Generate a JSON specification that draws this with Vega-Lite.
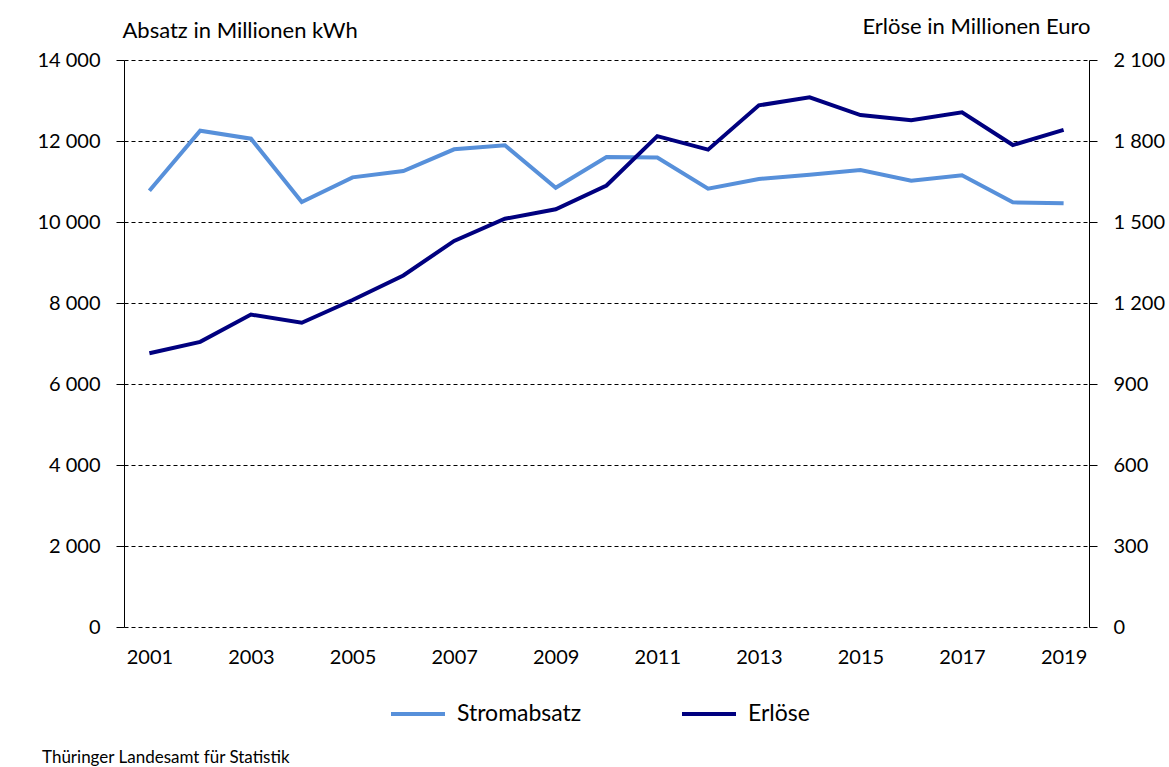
{
  "$schema": "https://vega.github.io/schema/vega-lite/v6.json",
  "width": 965,
  "height": 567,
  "autosize": {"type": "none"},
  "padding": {"left": 124, "top": 60, "right": 80, "bottom": 140},
  "background": "white",
  "config": {
    "font": "Lato",
    "view": {"stroke": null},
    "locale": {"number": {"decimal": ",", "thousands": " ", "grouping": [3], "currency": ["", " €"]}},
    "axis": {"labelFontSize": 20, "labelColor": "#000", "titleColor": "#000", "titleFontSize": 22, "titleFontWeight": "normal", "labelFont": "Lato", "titleFont": "Lato"},
    "title": {"font": "Lato"}
  },
  "title": {
    "text": "Thüringer Landesamt für Statistik",
    "orient": "bottom",
    "anchor": "start",
    "frame": "group",
    "fontSize": 17,
    "fontWeight": "normal",
    "color": "#000",
    "baseline": "alphabetic",
    "dx": -82,
    "offset": 37
  },
  "data": {
    "values": [
      {"Jahr": "2001", "Serie": "Stromabsatz", "Wert": 10770},
      {"Jahr": "2002", "Serie": "Stromabsatz", "Wert": 12255},
      {"Jahr": "2003", "Serie": "Stromabsatz", "Wert": 12057},
      {"Jahr": "2004", "Serie": "Stromabsatz", "Wert": 10494},
      {"Jahr": "2005", "Serie": "Stromabsatz", "Wert": 11103},
      {"Jahr": "2006", "Serie": "Stromabsatz", "Wert": 11259},
      {"Jahr": "2007", "Serie": "Stromabsatz", "Wert": 11795},
      {"Jahr": "2008", "Serie": "Stromabsatz", "Wert": 11893},
      {"Jahr": "2009", "Serie": "Stromabsatz", "Wert": 10847},
      {"Jahr": "2010", "Serie": "Stromabsatz", "Wert": 11605},
      {"Jahr": "2011", "Serie": "Stromabsatz", "Wert": 11590},
      {"Jahr": "2012", "Serie": "Stromabsatz", "Wert": 10822},
      {"Jahr": "2013", "Serie": "Stromabsatz", "Wert": 11062},
      {"Jahr": "2014", "Serie": "Stromabsatz", "Wert": 11168},
      {"Jahr": "2015", "Serie": "Stromabsatz", "Wert": 11284},
      {"Jahr": "2016", "Serie": "Stromabsatz", "Wert": 11020},
      {"Jahr": "2017", "Serie": "Stromabsatz", "Wert": 11153},
      {"Jahr": "2018", "Serie": "Stromabsatz", "Wert": 10486},
      {"Jahr": "2019", "Serie": "Stromabsatz", "Wert": 10461},
      {"Jahr": "2001", "Serie": "Erlöse", "Wert": 1014},
      {"Jahr": "2002", "Serie": "Erlöse", "Wert": 1056},
      {"Jahr": "2003", "Serie": "Erlöse", "Wert": 1157},
      {"Jahr": "2004", "Serie": "Erlöse", "Wert": 1127},
      {"Jahr": "2005", "Serie": "Erlöse", "Wert": 1211},
      {"Jahr": "2006", "Serie": "Erlöse", "Wert": 1302},
      {"Jahr": "2007", "Serie": "Erlöse", "Wert": 1430},
      {"Jahr": "2008", "Serie": "Erlöse", "Wert": 1512},
      {"Jahr": "2009", "Serie": "Erlöse", "Wert": 1547},
      {"Jahr": "2010", "Serie": "Erlöse", "Wert": 1635},
      {"Jahr": "2011", "Serie": "Erlöse", "Wert": 1818},
      {"Jahr": "2012", "Serie": "Erlöse", "Wert": 1768},
      {"Jahr": "2013", "Serie": "Erlöse", "Wert": 1932},
      {"Jahr": "2014", "Serie": "Erlöse", "Wert": 1962},
      {"Jahr": "2015", "Serie": "Erlöse", "Wert": 1896},
      {"Jahr": "2016", "Serie": "Erlöse", "Wert": 1877},
      {"Jahr": "2017", "Serie": "Erlöse", "Wert": 1906},
      {"Jahr": "2018", "Serie": "Erlöse", "Wert": 1785},
      {"Jahr": "2019", "Serie": "Erlöse", "Wert": 1841}
    ]
  },
  "encoding": {
    "x": {
      "field": "Jahr",
      "type": "ordinal",
      "scale": {"type": "point", "padding": 0.5},
      "axis": {
        "title": null,
        "labelAngle": 0,
        "values": ["2001", "2003", "2005", "2007", "2009", "2011", "2013", "2015", "2017", "2019"],
        "ticks": false,
        "domain": false,
        "grid": false,
        "labelPadding": 20
      }
    },
    "color": {
      "field": "Serie",
      "type": "nominal",
      "scale": {"domain": ["Stromabsatz", "Erlöse"], "range": ["#5790DA", "#00007F"]},
      "legend": {
        "title": null,
        "orient": "none",
        "direction": "horizontal",
        "legendX": 265,
        "legendY": 625,
        "symbolType": "stroke",
        "symbolSize": 2916,
        "symbolStrokeWidth": 4,
        "labelFontSize": 23,
        "labelColor": "#000",
        "labelOffset": 10,
        "columnPadding": 92
      }
    }
  },
  "layer": [
    {
      "transform": [{"filter": "datum.Serie === 'Stromabsatz'"}],
      "mark": {"type": "line", "strokeWidth": 4},
      "encoding": {
        "y": {
          "field": "Wert",
          "type": "quantitative",
          "scale": {"domain": [0, 14000], "nice": false},
          "axis": {
            "orient": "left",
            "title": "Absatz in Millionen kWh",
            "titleAngle": 0,
            "titleAlign": "left",
            "titleBaseline": "alphabetic",
            "titleX": -2,
            "titleY": -23,
            "values": [0, 2000, 4000, 6000, 8000, 10000, 12000, 14000],
            "format": ",d",
            "domain": true,
            "domainColor": "#000",
            "domainWidth": 1,
            "ticks": true,
            "tickSize": 8,
            "tickColor": "#000",
            "labelPadding": 16,
            "grid": true,
            "gridColor": "#000",
            "gridDash": [4, 3],
            "gridWidth": 1
          }
        }
      }
    },
    {
      "transform": [{"filter": "datum.Serie === 'Erlöse'"}],
      "mark": {"type": "line", "strokeWidth": 4},
      "encoding": {
        "y": {
          "field": "Wert",
          "type": "quantitative",
          "scale": {"domain": [0, 2100], "nice": false},
          "axis": {
            "orient": "right",
            "title": "Erlöse in Millionen Euro",
            "titleAngle": 0,
            "titleAlign": "right",
            "titleBaseline": "alphabetic",
            "titleX": 1,
            "titleY": -27,
            "values": [0, 300, 600, 900, 1200, 1500, 1800, 2100],
            "format": ",d",
            "domain": true,
            "domainColor": "#000",
            "domainWidth": 1,
            "ticks": true,
            "tickSize": 8,
            "tickColor": "#000",
            "labelPadding": 16,
            "grid": false
          }
        }
      }
    }
  ],
  "resolve": {"scale": {"y": "independent"}}
}
